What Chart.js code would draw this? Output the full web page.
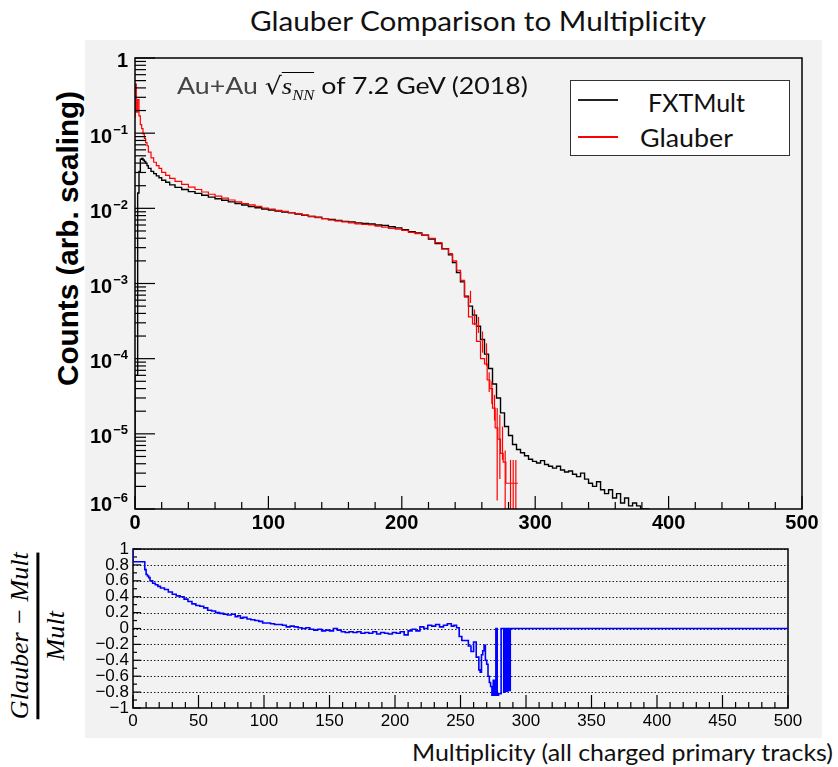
<!DOCTYPE html>
<html>
<head>
<meta charset="utf-8">
<script src="https://cdn.jsdelivr.net/npm/chart.js@4.4.1/dist/chart.umd.min.js"></script>
<style>
  body { margin: 0; background: #fff; }
  #page { position: relative; width: 838px; height: 767px; overflow: hidden; background: #fff; }
  .abs { position: absolute; white-space: nowrap; line-height: 1.15; }
  .calib { font-family: Lato, "Open Sans", sans-serif; color: #111; }
  canvas { position: absolute; }
</style>
</head>
<body>
<div id="page">
  <div class="abs calib" id="title" style="font-size:26px">Glauber Comparison to Multiplicity</div>
  <div style="position:absolute;left:85px;top:40px;width:737px;height:698px;background:#f2f2f2"></div>
  <canvas id="top" width="737" height="500" style="left:85px;top:40px"></canvas>
  <canvas id="ratio" width="737" height="198" style="left:85px;top:540px"></canvas>

  <div class="abs" id="ytitle" style="font:bold 29px 'Liberation Sans', Arial, sans-serif;color:#000">Counts (arb. scaling)</div>

  <div class="abs calib" id="note" style="font-size:24px"><span style="color:#444">Au+Au </span><span style="font-family:'DejaVu Sans'">√</span><span style="border-top:1.5px solid #000;font-family:'Liberation Serif',serif;font-style:italic">s<sub style="font-size:15px">NN</sub></span><span> of 7.2 GeV (2018)</span></div>

  <div style="position:absolute;left:570px;top:80px;width:218px;height:74px;border:1.5px solid #333;background:#fff">
    <div style="position:absolute;left:7px;top:18px;width:40px;height:1.5px;background:#222"></div>
    <div style="position:absolute;left:7px;top:55px;width:40px;height:1.5px;background:#ff0000"></div>
  </div>
  <div class="abs calib" id="legA" style="font-size:25px">FXTMult</div>
  <div class="abs calib" id="legB" style="font-size:25px">Glauber</div>

  <div class="abs" id="rtitle" style="font-family:'Liberation Serif',serif;font-style:italic;font-size:26px;line-height:1;display:flex;flex-direction:column;align-items:center">
    <span>Glauber − Mult</span>
    <span style="display:block;width:100%;height:2.5px;background:#000;margin:3px 0 4px 0"></span>
    <span>Mult</span>
  </div>

  <div class="abs calib" id="xtitle" style="font-size:23px">Multiplicity (all charged primary tracks)</div>
</div>

<script>
// FXTMult histogram (lower bin edge, counts)
const fxtMult = [
  0, 2, 3, 4, 5, 6, 7, 8, 9, 10, 12,
  14, 16, 18, 20, 23, 26, 30, 35, 40, 45,
  50, 55, 60, 65, 70, 75, 80, 85, 90, 95,
  100, 105, 110, 115, 120, 125, 130, 135, 140, 145,
  150, 155, 160, 165, 170, 175, 180, 185, 190, 195,
  200, 205, 210, 215, 220, 225, 230, 235, 238, 241,
  244, 247, 250, 253, 256, 259, 262, 265, 268, 271,
  274, 277, 280, 283, 286, 289, 292, 295, 298, 301,
  304, 307, 310, 313, 316, 319, 322, 325, 328, 331,
  334, 337, 340, 343, 346, 349, 352, 355, 358, 361,
  364, 367, 370, 373, 376, 379, 382, 385, 388
];
const fxtCounts = [
  1e-7, 6e-5, 0.016, 0.031, 0.045, 0.046, 0.044, 0.042, 0.040, 0.037, 0.034,
  0.031, 0.029, 0.027, 0.0255, 0.0236, 0.0222, 0.0205, 0.0190, 0.0178, 0.0167,
  0.0158, 0.0149, 0.0141, 0.0134, 0.0128, 0.0122, 0.0116, 0.0111, 0.0106, 0.0102,
  0.0098, 0.0095, 0.0092, 0.0089, 0.0087, 0.0084, 0.0081, 0.0078, 0.0076, 0.0073,
  0.0071, 0.0069, 0.0067, 0.0066, 0.0064, 0.0063, 0.0062, 0.0060, 0.0059, 0.0057,
  0.0055, 0.0052, 0.0049, 0.0047, 0.0044, 0.0039, 0.0034, 0.0029, 0.0024, 0.0019,
  0.0014, 0.00105, 0.00068, 0.00050, 0.00038, 0.00027, 0.00018, 1.15e-4, 7.4e-5, 4.6e-5,
  3.0e-5, 1.9e-5, 1.25e-5, 9.5e-6, 7.2e-6, 6.2e-6, 5.6e-6, 5.1e-6, 4.6e-6, 4.3e-6,
  4.1e-6, 4.4e-6, 3.9e-6, 3.7e-6, 3.5e-6, 3.7e-6, 3.3e-6, 3.1e-6, 3.2e-6, 2.9e-6,
  2.7e-6, 3.0e-6, 2.5e-6, 2.2e-6, 2.0e-6, 2.3e-6, 1.8e-6, 1.6e-6, 1.8e-6, 1.4e-6,
  1.6e-6, 1.2e-6, 1.4e-6, 1.1e-6, 1.2e-6, 1.1e-6, 1.0e-6, 1.0e-6, 1e-7
];

// Glauber histogram
const glauberMult = [
  0, 1, 2, 3, 4, 5, 6, 7, 8, 9,
  10, 12, 14, 16, 18, 20, 23, 26, 30, 35,
  40, 45, 50, 55, 60, 65, 70, 75, 80, 85,
  90, 95, 100, 105, 110, 115, 120, 125, 130, 135,
  140, 145, 150, 155, 160, 165, 170, 175, 180, 185,
  190, 195, 200, 205, 210, 215, 220, 225, 230, 235,
  238, 241, 244, 247, 250, 253, 256, 259, 262, 264,
  266, 268, 270, 272, 274, 276, 278, 280, 282, 284,
  286, 287
];
const glauberCounts = [
  0.16, 0.45, 0.19, 0.28, 0.17, 0.13, 0.115, 0.098, 0.085, 0.075,
  0.068, 0.056, 0.047, 0.041, 0.037, 0.034, 0.030, 0.0275, 0.0250, 0.0228,
  0.0208, 0.0192, 0.0178, 0.0165, 0.0154, 0.0145, 0.0137, 0.0129, 0.0122, 0.0116,
  0.0111, 0.0106, 0.0101, 0.0098, 0.0094, 0.0091, 0.0088, 0.0085, 0.0081, 0.0078,
  0.0075, 0.0073, 0.0070, 0.0068, 0.0066, 0.0064, 0.0062, 0.0061, 0.0060, 0.0058,
  0.0056, 0.0054, 0.0053, 0.0051, 0.0048, 0.0046, 0.0044, 0.0040, 0.0035, 0.0029,
  0.0025, 0.0020, 0.0015, 0.0011, 6.6e-4, 3.6e-4, 2.9e-4, 1.7e-4, 1.0e-4, 8.5e-5,
  5.2e-5, 4.0e-5, 2.2e-5, 1.2e-5, 8.5e-6, 5.5e-6, 4.2e-6, 2.2e-6, 2.2e-6, 2.2e-6,
  2.2e-6, 2.2e-6
];
// error bars on the Glauber tail
const glauberErrMult = [251, 254, 257, 260, 263, 265, 267, 269, 271, 273, 275, 277, 281, 283, 285];
const glauberErrLow  = [5.5e-4, 2.8e-4, 2.2e-4, 1.2e-4, 8e-5, 3.6e-5, 2.5e-5, 1.5e-5, 1.3e-6, 2.5e-6, 4.5e-6, 1e-7, 1e-7, 1e-7, 1e-7];
const glauberErrHigh = [8e-4, 4.5e-4, 3.6e-4, 2.3e-4, 1.6e-4, 6.6e-5, 5e-5, 3.3e-5, 2.2e-5, 1.8e-5, 1.25e-5, 6e-6, 4.5e-6, 4.5e-6, 4.5e-6];

// (Glauber - Mult) / Mult
const ratioMult = [
  0, 9, 10, 11, 12, 13, 15, 17, 19, 21,
  24, 27, 30, 33, 36, 39, 42, 45, 48, 51,
  54, 57, 60, 63, 66, 69, 72, 75, 78, 80,
  82, 84, 87, 90, 93, 96, 99, 102, 105, 108,
  111, 114, 117, 120, 123, 126, 129, 132, 135, 138,
  141, 144, 147, 150, 153, 156, 159, 162, 165, 168,
  171, 174, 177, 180, 183, 186, 189, 192, 195, 198,
  201, 204, 207, 210, 213, 216, 219, 222, 225, 228,
  231, 234, 237, 240, 243, 245, 247, 249, 251, 253,
  256, 258, 260, 262, 264, 265, 266, 267, 268, 269,
  270, 271, 272, 273, 274, 275, 276, 277, 278, 279,
  281, 283, 284, 285, 286, 287, 288, 289, 500
];
const ratioValues = [
  1.0, 0.84, 0.74, 0.68, 0.66, 0.64, 0.60, 0.57, 0.55, 0.53,
  0.51, 0.49, 0.46, 0.43, 0.41, 0.40, 0.37, 0.34, 0.31, 0.29,
  0.28, 0.26, 0.23, 0.22, 0.20, 0.19, 0.18, 0.17, 0.18, 0.15,
  0.16, 0.13, 0.14, 0.12, 0.11, 0.10, 0.09, 0.07, 0.07, 0.06,
  0.05, 0.05, 0.04, 0.02, 0.03, 0.02, 0.01, 0.0, 0.01, -0.01,
  -0.02, -0.01, -0.03, -0.02, -0.03, 0.0, -0.02, -0.04, -0.05, -0.04,
  -0.05, -0.04, -0.06, -0.05, -0.06, -0.04, -0.07, -0.05, -0.06, -0.07,
  -0.05, -0.06, -0.04, -0.08, -0.03, -0.01, -0.03, 0.02, 0.0, 0.04,
  0.03, 0.05, 0.02, 0.04, 0.06, 0.03, 0.04, 0.01, -0.10, -0.15,
  -0.15, -0.22, -0.29, -0.17, -0.36, -0.52, -0.55, -0.33, -0.28, -0.21,
  -0.40, -0.45, -0.60, -0.68, -0.73, -0.84, -0.65, -0.84, 0, -0.84,
  -0.82, 0, -0.80, 0, -0.79, 0, -0.78, 0, 0
];

// axis ticks
const topYExponents = [0, -1, -2, -3, -4, -5, -6];
const topXTicks = [0, 100, 200, 300, 400, 500];
const ratioYTicks = [1, 0.8, 0.6, 0.4, 0.2, 0, -0.2, -0.4, -0.6, -0.8, -1];
const ratioXTicks = [0, 50, 100, 150, 200, 250, 300, 350, 400, 450, 500];

const HELV = '"Liberation Sans", Arial, sans-serif';

function line(ctx, x1, y1, x2, y2) {
  ctx.beginPath(); ctx.moveTo(x1, y1); ctx.lineTo(x2, y2); ctx.stroke();
}

const topAxes = {
  id: 'topAxes',
  afterDatasetsDraw(chart) {
    const { ctx, chartArea: a, scales: { x, y } } = chart;
    ctx.save();
    // error bars
    ctx.save();
    ctx.beginPath(); ctx.rect(a.left, a.top, a.right - a.left, a.bottom - a.top); ctx.clip();
    ctx.strokeStyle = '#ff0000'; ctx.lineWidth = 1.2;
    glauberErrMult.forEach((m, i) => {
      const px = x.getPixelForValue(m + 0.5);
      line(ctx, px, y.getPixelForValue(glauberErrLow[i]), px, y.getPixelForValue(glauberErrHigh[i]));
    });
    ctx.restore();

    ctx.strokeStyle = '#000';
    ctx.lineWidth = 1.5;
    ctx.strokeRect(a.left, a.top, a.right - a.left, a.bottom - a.top);
    ctx.lineWidth = 1.2;
    topYExponents.forEach(e => {
      for (let j = 1; j <= 9; j++) {
        const v = j * Math.pow(10, e);
        if (v > 1.0001) break;
        const py = y.getPixelForValue(v);
        line(ctx, a.left, py, a.left + (j === 1 ? 20 : 11), py);
      }
    });
    for (let m = 0; m <= 500; m += 20) {
      const px = x.getPixelForValue(m);
      line(ctx, px, a.bottom, px, a.bottom - (m % 100 === 0 ? 13 : 7));
    }
    // labels
    ctx.fillStyle = '#000';
    ctx.textBaseline = 'middle';
    const right = a.left - 7;
    topYExponents.forEach(e => {
      let py = y.getPixelForValue(Math.pow(10, e));
      ctx.textAlign = 'right';
      if (e === 0) {
        ctx.font = 'bold 20px ' + HELV;
        ctx.fillText('1', right, py + 3);
        return;
      }
      if (e === -6) py -= 8;
      const sup = '\u2212' + (-e);
      ctx.font = 'bold 13px ' + HELV;
      const sw = ctx.measureText(sup).width;
      ctx.fillText(sup, right, py - 3);
      ctx.font = 'bold 20px ' + HELV;
      ctx.fillText('10', right - sw - 1, py + 4);
    });
    ctx.font = 'bold 20px ' + HELV;
    ctx.textAlign = 'center';
    topXTicks.forEach(m => ctx.fillText(String(m), x.getPixelForValue(m), a.bottom + 14));
    ctx.restore();
  }
};

const ratioAxes = {
  id: 'ratioAxes',
  beforeDatasetsDraw(chart) {
    const { ctx, chartArea: a, scales: { x, y } } = chart;
    ctx.save();
    ctx.strokeStyle = '#222';
    ctx.lineWidth = 1;
    ctx.setLineDash([1.5, 2]);
    ratioYTicks.forEach(v => {
      if (v <= -1) return;
      const py = Math.round(y.getPixelForValue(v)) + 0.5;
      line(ctx, a.left, py, a.right, py);
    });
    ctx.setLineDash([]);
    ctx.strokeStyle = '#000';
    ctx.lineWidth = 1.5;
    ctx.strokeRect(a.left, a.top, a.right - a.left, a.bottom - a.top);
    ctx.lineWidth = 1.2;
    for (let m = 0; m <= 500; m += 10) {
      const px = x.getPixelForValue(m);
      line(ctx, px, a.bottom, px, a.bottom - (m % 50 === 0 ? 13 : 6));
    }
    for (let k = -10; k <= 10; k++) {
      const py = y.getPixelForValue(k / 10);
      line(ctx, a.left, py, a.left + (k % 2 === 0 ? 8 : 4), py);
    }
    ctx.restore();
  },
  afterDatasetsDraw(chart) {
    const { ctx, chartArea: a, scales: { x, y } } = chart;
    ctx.save();
    ctx.fillStyle = '#000';
    ctx.font = '17px ' + HELV;
    ctx.textBaseline = 'middle';
    ctx.textAlign = 'right';
    ratioYTicks.forEach(v => {
      let s = v === 0 ? '0' : (Math.abs(v) === 1 ? '1' : Math.abs(v).toFixed(1));
      if (v < 0) s = '\u2212' + s;
      ctx.fillText(s, a.left - 4, y.getPixelForValue(v));
    });
    ctx.textAlign = 'center';
    ratioXTicks.forEach(m => ctx.fillText(String(m), x.getPixelForValue(m), a.bottom + 13));
    ctx.restore();
  }
};

const hidden = { ticks: { display: false }, grid: { display: false }, border: { display: false } };

new Chart(document.getElementById('top'), {
  type: 'line',
  data: {
    datasets: [
      {
        label: 'FXTMult',
        data: fxtMult.map((m, i) => ({ x: m, y: fxtCounts[i] })),
        borderColor: '#000', borderWidth: 1.4, stepped: 'after', pointRadius: 0, order: 2
      },
      {
        label: 'Glauber',
        data: glauberMult.map((m, i) => ({ x: m, y: glauberCounts[i] })),
        borderColor: '#ff0000', borderWidth: 1.2, stepped: 'after', pointRadius: 0, order: 1
      }
    ]
  },
  options: {
    responsive: false, animation: false, devicePixelRatio: 1,
    layout: { padding: { left: 0, right: 20, top: 18, bottom: 0 } },
    plugins: { legend: { display: false }, tooltip: { enabled: false } },
    scales: {
      x: { type: 'linear', min: 0, max: 500, ...hidden, afterFit(s) { s.height = 31; } },
      y: { type: 'logarithmic', min: 1e-6, max: 1, ...hidden, afterFit(s) { s.width = 50; } }
    }
  },
  plugins: [topAxes]
});

new Chart(document.getElementById('ratio'), {
  type: 'line',
  data: {
    datasets: [{
      label: '(Glauber - Mult)/Mult',
      data: ratioMult.map((m, i) => ({ x: m, y: ratioValues[i] })),
      borderColor: '#0000ff', borderWidth: 1.6, stepped: 'after', pointRadius: 0
    }]
  },
  options: {
    responsive: false, animation: false, devicePixelRatio: 1,
    layout: { padding: { left: 0, right: 34, top: 9, bottom: 0 } },
    plugins: { legend: { display: false }, tooltip: { enabled: false } },
    scales: {
      x: { type: 'linear', min: 0, max: 500, ...hidden, afterFit(s) { s.height = 30; } },
      y: { type: 'linear', min: -1, max: 1, ...hidden, afterFit(s) { s.width = 48; } }
    }
  },
  plugins: [ratioAxes]
});

// place the html texts
function fitText(id, left, cy, width) {
  const el = document.getElementById(id);
  el.style.left = left + 'px';
  el.style.top = '0px';
  const r = el.getBoundingClientRect();
  el.style.top = (cy - r.height / 2) + 'px';
  el.style.transformOrigin = 'left center';
  el.style.transform = 'scaleX(' + (width / r.width) + ')';
}
function rotText(id, cx, cy, len) {
  const el = document.getElementById(id);
  el.style.left = '0px'; el.style.top = '0px';
  const r = el.getBoundingClientRect();
  el.style.left = (cx - r.width / 2) + 'px';
  el.style.top = (cy - r.height / 2) + 'px';
  el.style.transformOrigin = 'center center';
  el.style.transform = 'rotate(-90deg) scaleX(' + (len / r.width) + ')';
}
fitText('title', 250, 22, 456);
fitText('note', 177, 88, 351);
fitText('legA', 648, 102, 97);
fitText('legB', 640, 137, 93);
fitText('xtitle', 412, 752, 421);
rotText('ytitle', 68, 238, 295);
rotText('rtitle', 38, 636, 167);
</script>
</body>
</html>
